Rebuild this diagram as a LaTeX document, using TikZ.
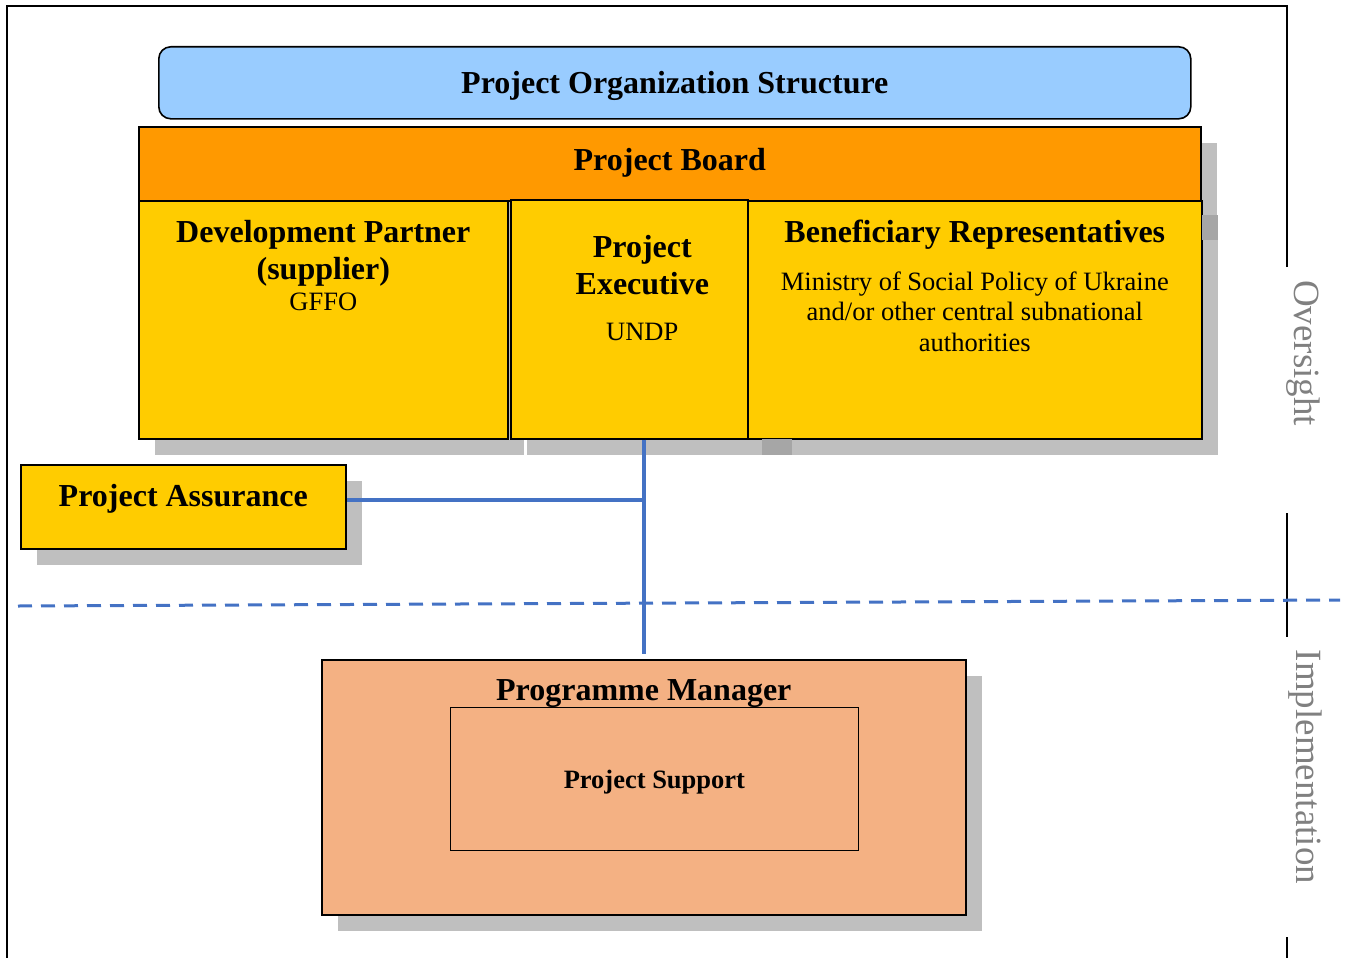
\documentclass[tikz,border=0pt]{standalone}
\usepackage{fontspec}
\setmainfont{Liberation Serif}
\usetikzlibrary{positioning, shadows}
\definecolor{PO_Sky}{HTML}{99CCFF}
\definecolor{PO_Orange}{HTML}{FF9900}
\definecolor{PO_Gold}{HTML}{FFCC00}
\definecolor{PO_Salmon}{HTML}{F4B183}
\definecolor{PO_Line}{HTML}{4472C4}
\definecolor{PO_Shade}{HTML}{BFBFBF}
\definecolor{PO_ShadeDark}{HTML}{A6A6A6}
\definecolor{PO_Grey}{HTML}{808080}

\begin{document}
\begin{tikzpicture}[x=1pt, y=-1pt,
    orgbox/.style={draw, line width=1.6pt, inner sep=0pt, anchor=north west},
    boxshadow/.style={drop shadow={shadow xshift=16pt, shadow yshift=-16pt, fill=PO_Shade, opacity=1}},
    head/.style={font=\fontsize{32}{37}\selectfont\bfseries, align=center, inner sep=0pt, anchor=base},
    body/.style={font=\fontsize{26.5}{30.5}\selectfont, align=center, inner sep=0pt, anchor=base},
    side/.style={font=\fontsize{37}{40}\selectfont, text=PO_Grey, inner sep=0pt, rotate=-90},
    link/.style={PO_Line, line width=4pt}]

    \useasboundingbox (0,0) rectangle (1346,958);

    % === Frame, open where the side labels sit ===
    \draw[line width=1.6pt] (1287,267) -- (1287,6) -- (7,6) -- (7,958);
    \draw[line width=1.6pt] (1287,513) -- (1287,637);
    \draw[line width=1.6pt] (1287,937) -- (1287,958);

    % === Heading ===
    \node[orgbox, fill=PO_Sky, rounded corners=12pt, minimum width=1032pt, minimum height=72pt] (title) at (158,46) {};
    \node[head] (titlet) at ([yshift=-47pt]title.north) {Project Organization Structure};

    % === Project board and its three members ===
    % (base anchor of a multi-line text = baseline of its last line)
    \node[orgbox, boxshadow, fill=PO_Orange, minimum width=1062pt, minimum height=74pt] (board) at (138,126) {};
    \node[head] (boardt) at ([yshift=-44pt]board.north) {Project Board};

    \node[orgbox, boxshadow, fill=PO_Gold, minimum width=369pt, minimum height=238pt] (devp) at (138,200) {};
    \node[head] (devpt) at ([yshift=-79pt]devp.north) {Development Partner\\(supplier)};
    \node[body] (devps) at ([yshift=-110pt]devp.north) {GFFO};

    \node[orgbox, boxshadow, fill=PO_Gold, minimum width=237pt, minimum height=239pt] (exec) at (510,199) {};
    \node[head] (exect) at ([xshift=13pt, yshift=-95pt]exec.north) {Project\\Executive};
    \node[body] (execs) at ([xshift=13pt, yshift=-141pt]exec.north) {UNDP};

    \node[orgbox, boxshadow, fill=PO_Gold, minimum width=454pt, minimum height=238pt] (benef) at (747,200) {};
    \node[head] (beneft) at ([yshift=-42pt]benef.north) {Beneficiary Representatives};
    \node[body] (benefs) at ([yshift=-151pt]benef.north) {Ministry of Social Policy of Ukraine\\and/or other central subnational\\authorities};

    % overlapping shadow corners
    \fill[PO_ShadeDark] (1202,215) rectangle (1218,240);
    \fill[PO_ShadeDark] (762,439) rectangle (792,455);

    % === Assurance ===
    \node[orgbox, boxshadow, fill=PO_Gold, minimum width=325pt, minimum height=84pt] (assure) at (20,464) {};
    \node[head] (assuret) at ([yshift=-42pt]assure.north) {Project Assurance};

    % === Implementation level ===
    \node[orgbox, boxshadow, fill=PO_Salmon, minimum width=644pt, minimum height=255pt] (pm) at (321,659) {};
    \node[head] (pmt) at ([yshift=-41pt]pm.north) {Programme Manager};
    \node[orgbox, line width=0.8pt, minimum width=408pt, minimum height=143pt] (support) at (450,707) {};
    \node[head, font=\fontsize{26.5}{30}\selectfont\bfseries] (supportt) at ([yshift=-81pt]support.north) {Project Support};

    % === Links ===
    \draw[link] (pm.north |- exec.south) -- ([yshift=5pt]pm.north);
    \draw[link] ([yshift=7pt]assure.east) coordinate (tap) -- (tap -| pm.north);

    \coordinate (cutL) at (18,606);
    \coordinate (cutR) at (1340,600);
    \draw[link, line width=3pt, dash pattern=on 14pt off 9pt] (cutL) -- (cutR);

    % === Side labels ===
    \node[side] (oversight) at (1303,353) {Oversight};
    \node[side] (implement) at (1305,767) {Implementation};

\end{tikzpicture}
\end{document}
